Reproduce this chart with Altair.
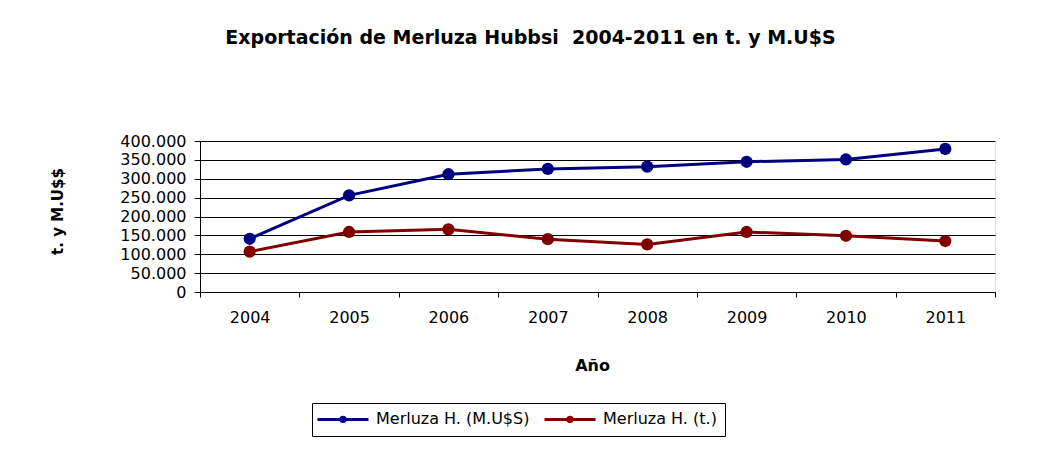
import altair as alt
import pandas as pd

years = [2004, 2005, 2006, 2007, 2008, 2009, 2010, 2011]
musd = [141000, 256000, 312000, 326000, 332000, 345000, 351000, 379000]
tons = [107000, 159000, 166000, 140000, 126000, 159000, 149000, 135000]
series_names = ["Merluza H. (M.U$S)", "Merluza H. (t.)"]
series_colors = ["#000080", "#800000"]
y_ticks = [0, 50000, 100000, 150000, 200000, 250000, 300000, 350000, 400000]
x_edges = [2003.5, 2004.5, 2005.5, 2006.5, 2007.5, 2008.5, 2009.5, 2010.5, 2011.5]

rows = []
for y, v in zip(years, musd):
    rows.append({"year": y, "serie": series_names[0], "valor": v})
for y, v in zip(years, tons):
    rows.append({"year": y, "serie": series_names[1], "valor": v})
df = pd.DataFrame(rows)

FONT = "DejaVu Sans"
W, H = 795, 151

x_enc = alt.X(
    "year:Q",
    scale=alt.Scale(domain=[x_edges[0], x_edges[-1]], nice=False, zero=False),
    axis=alt.Axis(
        title="Año",
        values=x_edges,
        labelExpr="datum.value < 2011 ? format(datum.value + 0.5, 'd') : ''",
        labelOffset=W / 16,
        labelFlush=False,
        labelOverlap=False,
        labelBound=False,
        grid=False,
        tickSize=5,
        tickColor="black",
        domainColor="black",
        labelPadding=12,
        labelFontSize=16,
        labelFont=FONT,
        labelColor="black",
        titleFont=FONT,
        titleFontSize=16,
        titleFontWeight="bold",
        titleColor="black",
        titleX=392,
        titleY=73,
        titleBaseline="middle",
    ),
)
y_enc = alt.Y(
    "valor:Q",
    scale=alt.Scale(domain=[0, 400000], nice=False),
    axis=alt.Axis(
        title="t. y M.U$$",
        values=y_ticks,
        labelExpr="replace(format(datum.value, ','), ',', '.')",
        grid=True,
        gridColor="black",
        gridWidth=1,
        gridOpacity=1,
        tickSize=6,
        tickColor="black",
        domainColor="black",
        labelPadding=8,
        labelFontSize=16,
        labelFont=FONT,
        labelColor="black",
        labelOverlap=False,
        labelFlush=False,
        titleFont=FONT,
        titleFontSize=15,
        titleFontWeight="bold",
        titleColor="black",
        titleX=-143,
        titleY=70,
        titleBaseline="middle",
        titleAngle=-90,
    ),
)
color_enc = alt.Color(
    "serie:N",
    scale=alt.Scale(domain=series_names, range=series_colors),
    legend=alt.Legend(
        title=None,
        orient="none",
        legendX=112,
        legendY=262,
        direction="horizontal",
        strokeColor="black",
        fillColor="white",
        padding=8,
        symbolType="M-4.25,0L4.25,0M-0.35,0A0.35,0.35,0,1,1,0.35,0A0.35,0.35,0,1,1,-0.35,0",
        symbolSize=144,
        symbolStrokeWidth=3,
        symbolOffset=15,
        labelOffset=25,
        labelFont=FONT,
        labelFontSize=16,
        labelColor="black",
        columnPadding=8,
        labelLimit=300,
    ),
)

lines = alt.Chart(df).mark_line(strokeWidth=3).encode(x=x_enc, y=y_enc, color=color_enc)
points = alt.Chart(df).mark_point(filled=True, size=150, opacity=1).encode(
    x=x_enc, y=y_enc, color=color_enc
)

chart = (
    alt.layer(lines, points)
    .properties(
        width=W,
        height=H,
        autosize=alt.AutoSizeParams(type="none"),
        padding={"left": 192, "top": 133, "right": 39, "bottom": 170},
        title=alt.TitleParams(
            text="Exportación de Merluza Hubbsi \u00a02004-2011 en t. y M.U$S",
            font=FONT,
            fontSize=19,
            fontWeight="bold",
            color="black",
            anchor="middle",
            dx=-67,
            offset=85,
        ),
    )
    .configure_view(fill="#C0C0C0", stroke="#808080", strokeWidth=1)
    .configure(background="white")
)

chart.save("out.html", embed_options={"renderer": "svg", "actions": False})
